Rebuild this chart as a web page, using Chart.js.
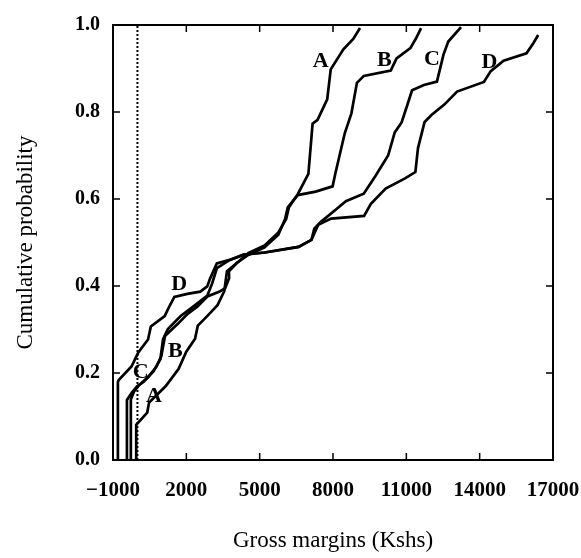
<!DOCTYPE html>
<html>
<head>
<meta charset="utf-8">
<script src="https://cdn.jsdelivr.net/npm/chart.js@4"></script>
<style>
  body { margin: 0; background: #fff; }
  canvas { display: block; }
</style>
</head>
<body>
<canvas id="cdfChart" width="581" height="558"></canvas>
<script>
// tick positions
const xTicks = [-1000, 2000, 5000, 8000, 11000, 14000, 17000];
const yTicks = [0, 0.2, 0.4, 0.6, 0.8, 1.0];

// curve A
const aX = [-50, -50, 400, 476, 1160, 1680, 1998, 2357, 2471, 2873, 3275, 3552, 3663, 4066, 4550, 5200, 5765, 6084, 6198, 6558, 6993, 7165, 7368, 7763, 7907, 8425, 8828, 9106];
const aY = [0, 0.081, 0.109, 0.132, 0.170, 0.209, 0.249, 0.279, 0.309, 0.332, 0.356, 0.388, 0.434, 0.453, 0.476, 0.493, 0.523, 0.554, 0.581, 0.611, 0.658, 0.773, 0.782, 0.829, 0.898, 0.944, 0.968, 0.993];

// curve B
const bX = [-270, -270, -145, 55, 458, 779, 977, 1127, 1329, 1652, 2054, 2458, 2861, 3389, 3591, 3749, 3744, 4066, 4550, 5200, 5765, 6040, 6150, 6558, 7291, 7984, 8098, 8481, 8753, 8979, 9261, 10362, 10600, 11166, 11404, 11602];
const bY = [0, 0.139, 0.157, 0.171, 0.192, 0.215, 0.239, 0.285, 0.296, 0.313, 0.336, 0.353, 0.376, 0.388, 0.395, 0.418, 0.434, 0.453, 0.472, 0.489, 0.518, 0.554, 0.581, 0.609, 0.617, 0.629, 0.659, 0.751, 0.797, 0.867, 0.883, 0.895, 0.923, 0.947, 0.970, 0.993];

// curve C
const cX = [-430, -430, -226, -25, 257, 660, 938, 1048, 1246, 1769, 2334, 2860, 3057, 3250, 3777, 4347, 5204, 6592, 7119, 7234, 7516, 8121, 8526, 9257, 9736, 10255, 10526, 10806, 11040, 11234, 11721, 12252, 12520, 12716, 13238];
const cY = [0, 0.138, 0.155, 0.169, 0.180, 0.204, 0.232, 0.278, 0.301, 0.331, 0.355, 0.378, 0.406, 0.441, 0.460, 0.472, 0.477, 0.490, 0.506, 0.532, 0.548, 0.576, 0.595, 0.612, 0.653, 0.700, 0.753, 0.776, 0.816, 0.850, 0.862, 0.870, 0.932, 0.962, 0.995];

// curve D
const dX = [-800, -800, -767, -243, 34, 434, 548, 1114, 1312, 1511, 2040, 2571, 2855, 2972, 3248, 3777, 4347, 5204, 6592, 7119, 7395, 7923, 9271, 9550, 10154, 10965, 11370, 11477, 11747, 12028, 12553, 13076, 14174, 14454, 14979, 15915, 16194, 16394];
const dY = [0, 0.179, 0.184, 0.215, 0.247, 0.277, 0.307, 0.331, 0.354, 0.375, 0.382, 0.387, 0.399, 0.417, 0.452, 0.460, 0.472, 0.477, 0.490, 0.506, 0.541, 0.555, 0.561, 0.589, 0.624, 0.648, 0.662, 0.717, 0.777, 0.793, 0.817, 0.847, 0.869, 0.894, 0.918, 0.935, 0.958, 0.977];

// dotted reference line
const refX = [0, 0];
const refY = [0, 1];

// curve letters
const letterText = ['A', 'B', 'C', 'D', 'A', 'B', 'C', 'D'];
const letterX = [7500, 10100, 12050, 14400, 677, 1546, 129, 1707];
const letterY = [0.916, 0.918, 0.92, 0.915, 0.146, 0.25, 0.201, 0.405];

const toPoints = (xs, ys) => xs.map((x, i) => ({ x: x, y: ys[i] }));

const curve = (xs, ys) => ({
    data: toPoints(xs, ys),
    showLine: true,
    borderColor: '#000',
    borderWidth: 2.7,
    pointRadius: 0,
    tension: 0,
    fill: false
});

const frameTicks = {
    id: 'frameTicks',
    afterDatasetsDraw(chart) {
        const ctx = chart.ctx;
        const area = chart.chartArea;
        const sx = chart.scales.x;
        const sy = chart.scales.y;
        const len = 7;
        ctx.save();
        ctx.strokeStyle = '#000';
        ctx.lineWidth = 2;
        ctx.strokeRect(area.left, area.top, area.right - area.left, area.bottom - area.top);
        ctx.lineWidth = 1.5;
        ctx.beginPath();
        xTicks.slice(1, -1).forEach(v => {
            const px = sx.getPixelForValue(v);
            ctx.moveTo(px, area.bottom); ctx.lineTo(px, area.bottom - len);
            ctx.moveTo(px, area.top); ctx.lineTo(px, area.top + len);
        });
        yTicks.slice(1, -1).forEach(v => {
            const py = sy.getPixelForValue(v);
            ctx.moveTo(area.left, py); ctx.lineTo(area.left + len, py);
            ctx.moveTo(area.right, py); ctx.lineTo(area.right - len, py);
        });
        ctx.stroke();
        // curve letters
        ctx.fillStyle = '#000';
        ctx.font = 'bold 22px "Liberation Serif"';
        ctx.textAlign = 'center';
        ctx.textBaseline = 'middle';
        letterText.forEach((t, i) => {
            ctx.fillText(t, sx.getPixelForValue(letterX[i]), sy.getPixelForValue(letterY[i]));
        });
        ctx.restore();
    }
};

const cdfCanvas = document.getElementById('cdfChart').getContext('2d');
const cdfChart = new Chart(cdfCanvas, {
    type: 'scatter',
    data: {
        datasets: [
            curve(aX, aY),
            curve(bX, bY),
            curve(cX, cY),
            curve(dX, dY),
            {
                data: toPoints(refX, refY),
                showLine: true,
                borderColor: '#000',
                borderWidth: 2,
                borderDash: [2, 2],
                pointRadius: 0
            }
        ]
    },
    options: {
        responsive: false,
        animation: false,
        layout: {
            padding: { top: 25, right: 28, left: 0, bottom: 0 }
        },
        plugins: {
            legend: { display: false },
            tooltip: { enabled: false }
        },
        scales: {
            x: {
                type: 'linear',
                min: -1000,
                max: 17000,
                afterBuildTicks: (scale) => { scale.ticks = xTicks.map(v => ({ value: v })); },
                afterFit: (scale) => {
                    scale.height = 98;
                    scale.paddingLeft = 0;
                    scale.paddingRight = 0;
                },
                grid: { display: false },
                border: { display: false },
                ticks: {
                    padding: 10,
                    color: '#000',
                    maxRotation: 0,
                    font: { family: 'Liberation Serif', size: 21, weight: 'bold' },
                    callback: (v) => v < 0 ? '\u2212' + Math.abs(v) : String(v)
                },
                title: {
                    display: true,
                    text: 'Gross margins (Kshs)',
                    color: '#000',
                    font: { family: 'Liberation Serif', size: 23 },
                    padding: { top: 0, bottom: 3 }
                }
            },
            y: {
                type: 'linear',
                min: 0,
                max: 1,
                afterBuildTicks: (scale) => { scale.ticks = yTicks.map(v => ({ value: v })); },
                afterFit: (scale) => {
                    scale.width = 113;
                    scale.paddingTop = 0;
                    scale.paddingBottom = 0;
                },
                grid: { display: false },
                border: { display: false },
                ticks: {
                    padding: 5,
                    color: '#000',
                    font: { family: 'Liberation Serif', size: 20, weight: 'bold' },
                    callback: (v) => v.toFixed(1)
                },
                title: {
                    display: true,
                    text: 'Cumulative probability',
                    color: '#000',
                    font: { family: 'Liberation Serif', size: 23 },
                    padding: { top: 12, bottom: 0 }
                }
            }
        }
    },
    plugins: [frameTicks]
});
</script>
</body>
</html>
